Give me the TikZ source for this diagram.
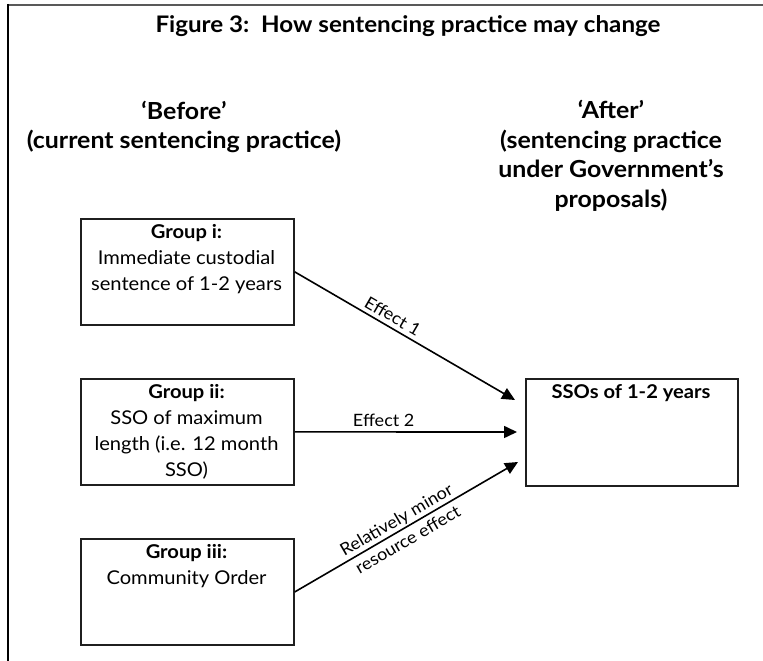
\documentclass[tikz,border=0pt]{standalone}
\usepackage{fontspec}
\setmainfont{Lato}[FakeStretch=1.06]
\usetikzlibrary{arrows.meta}
\begin{document}
\begin{tikzpicture}[x=1pt,y=-1pt,
  grp/.style={draw=black!88, line width=1.8pt, minimum width=213pt, minimum height=106pt, inner sep=0pt, anchor=north west},
  txt/.style={align=center, font=\fontsize{19}{26}\selectfont, inner sep=0pt},
  head/.style={align=center, font=\fontsize{23.5}{29.5}\selectfont\bfseries, inner sep=0pt},
  conn/.style={line width=1.6pt, -{Triangle[length=13pt,width=12pt]}},
  lab/.style={font=\fontsize{17}{20}\selectfont, inner sep=0pt}
]
\useasboundingbox (0,0) rectangle (763,661);
% frame
\draw[black!65, line width=2pt] (8,5) -- (763,5);
\draw[line width=1.5pt] (8,4) -- (8,661);

\node[font=\fontsize{22.8}{26}\selectfont\bfseries, inner sep=0pt] (title) at (408,26) {Figure 3:\ \ How sentencing practice may change};

\node[head] (before) at (184,127) {‘Before’\\(current sentencing practice)};
\node[head] (after) at (611,156) {‘After’\\(sentencing practice\\under Government’s\\proposals)};

\node[grp] (g1) at (80,218) {};
\node[txt] (g1t) at (186.5,259) {\textbf{Group i:}\\Immediate custodial\\sentence of 1-2 years};

\node[grp] (g2) at (80,378) {};
\node[txt] (g2t) at (186.5,432) {\textbf{Group ii:}\\SSO of maximum\\length (i.e. 12 month\\SSO)};

\node[grp] (g3) at (80,538) {};
\node[txt] (g3t) at (186.5,566) {\textbf{Group iii:}\\Community Order};

\node[grp, minimum width=212pt, minimum height=107pt] (sso) at (525,378) {};
\node[txt, font=\fontsize{19}{26}\selectfont\bfseries] (ssot) at (631,393) {SSOs of 1-2 years};

\coordinate (t1) at (515,400);
\coordinate (t2) at (517,432);
\coordinate (t3) at (518,462);

\draw[conn] (g1.east) -- node[lab, sloped, above=4pt, pos=0.42] (l1) {Effect 1} (t1);
\draw[conn] (g2.east) -- node[lab, above=5pt, pos=0.4] (l2) {Effect 2} (t2);
\draw[conn] (g3.east) -- node[lab, sloped, align=center, font=\fontsize{17}{23}\selectfont, pos=0.48] (l3) {Relatively minor\\resource effect} (t3);
\end{tikzpicture}
\end{document}
